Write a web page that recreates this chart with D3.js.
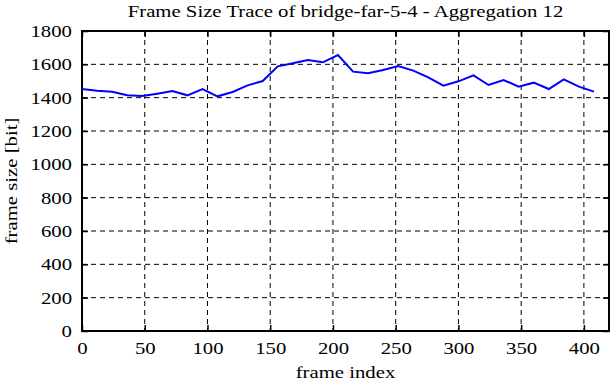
<!DOCTYPE html>
<html><head><meta charset="utf-8">
<script src="https://cdn.jsdelivr.net/npm/d3@7"></script>
<style>body{margin:0;background:#fff}svg{display:block}</style>
</head><body>
<svg id="c" width="612" height="382"></svg>
<script>
const frames = [0,12,24,36,48,60,72,84,96,108,120,132,144,156,168,180,192,204,216,228,240,252,264,276,288,300,312,324,336,348,360,372,384,396,408];
const sizes = [1452,1442,1436,1414,1410,1424,1440,1414,1452,1408,1434,1474,1500,1588,1606,1626,1612,1656,1556,1546,1566,1590,1562,1522,1472,1498,1534,1476,1506,1466,1490,1452,1510,1466,1436];
const xTicks = [0,50,100,150,200,250,300,350,400];
const yTicks = [0,200,400,600,800,1000,1200,1400,1600,1800];
const title = "Frame Size Trace of bridge-far-5-4 - Aggregation 12";

const FONT = '"Liberation Serif","Times New Roman",serif';
const FS = 17, STRETCH = 1.22;
const svg = d3.select("#c");
const L=82,R=609,T=31,B=331;
const x = d3.scaleLinear().domain([0,420]).range([L,R]);
const y = d3.scaleLinear().domain([0,1800]).range([B,T]);

// grid
const g = svg.append("g");
g.selectAll(".gx").data(xTicks.filter(d=>d>0)).enter().append("line")
 .attr("x1",d=>x(d)).attr("x2",d=>x(d)).attr("y1",T).attr("y2",B)
 .attr("stroke","#000").attr("stroke-width",1).attr("stroke-dasharray","5,4");
g.selectAll(".gy").data(yTicks.filter(d=>d>0&&d<1800)).enter().append("line")
 .attr("x1",L).attr("x2",R).attr("y1",d=>y(d)).attr("y2",d=>y(d))
 .attr("stroke","#000").attr("stroke-width",1).attr("stroke-dasharray","5,4");

// axes
const fmt = d3.format("d");
const ax = svg.append("g").attr("transform",`translate(0,${B})`)
 .call(d3.axisBottom(x).tickValues(xTicks).tickFormat(fmt).tickSize(-6).tickPadding(11));
const ay = svg.append("g").attr("transform",`translate(${L},0)`)
 .call(d3.axisLeft(y).tickValues(yTicks).tickFormat(fmt).tickSize(-6).tickPadding(10));
const axT = svg.append("g").attr("transform",`translate(0,${T})`)
 .call(d3.axisTop(x).tickValues(xTicks).tickSize(-6).tickFormat(""));
const ayR = svg.append("g").attr("transform",`translate(${R},0)`)
 .call(d3.axisRight(y).tickValues(yTicks).tickSize(-6).tickFormat(""));
[ax,ay,axT,ayR].forEach(a=>{
  a.attr("font-family",FONT).attr("font-size",FS);
  a.select(".domain").remove();
  a.selectAll("line").attr("stroke","#000").attr("stroke-width",1.5);
  a.selectAll("text").attr("fill","#000");
});
svg.append("rect").attr("x",L).attr("y",T).attr("width",R-L).attr("height",B-T)
 .attr("fill","none").attr("stroke","#000").attr("stroke-width",2);

// line
svg.append("path").datum(frames.map((f,i)=>[f,sizes[i]]))
 .attr("fill","none").attr("stroke","#0000ff").attr("stroke-width",2)
 .attr("d",d3.line().x(d=>x(d[0])).y(d=>y(d[1])));

// labels
const lab = svg.append("g").attr("font-family",FONT).attr("font-size",FS).attr("fill","#000");
lab.append("text").attr("x",(L+R)/2).attr("y",17).attr("text-anchor","middle").text(title);
lab.append("text").attr("x",(L+R)/2).attr("y",378).attr("text-anchor","middle").text("frame index");
lab.append("text").attr("transform",`translate(17,${(T+B)/2}) rotate(-90)`).attr("text-anchor","middle").text("frame size [bit]");

// widen glyphs horizontally to match reference typeface proportions
svg.selectAll("text").each(function(){
  const t = this; if(!t.textContent) return;
  const w = t.getComputedTextLength();
  t.setAttribute("textLength", (w*STRETCH).toFixed(1));
  t.setAttribute("lengthAdjust","spacingAndGlyphs");
});
</script>
</body></html>
